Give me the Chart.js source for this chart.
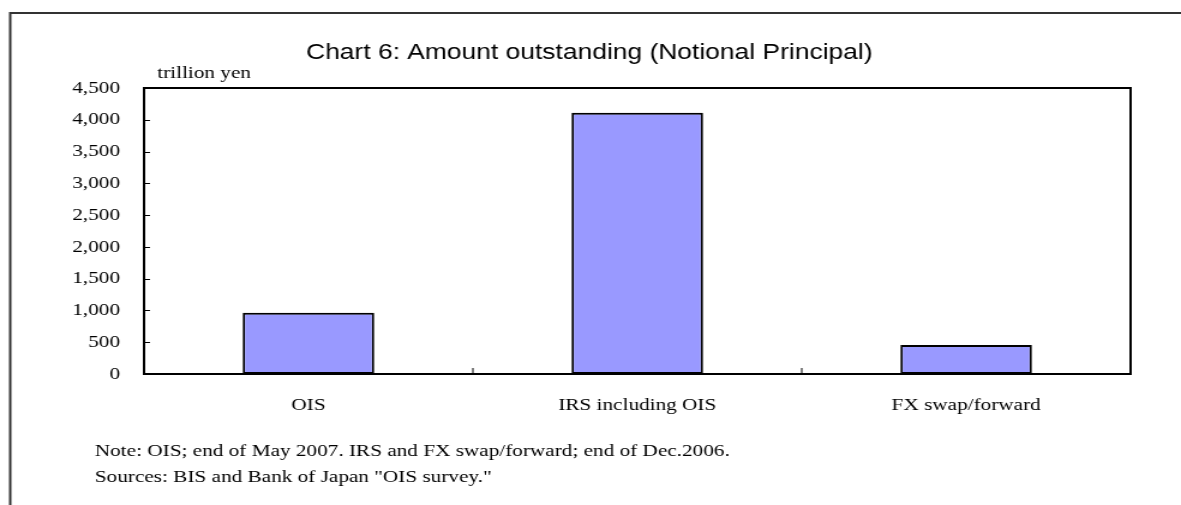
<!DOCTYPE html>
<html>
<head>
<meta charset="utf-8">
<script src="https://cdn.jsdelivr.net/npm/chart.js@4"></script>
<style>
  html, body { margin: 0; padding: 0; background: #fff; overflow: hidden; }
  /* the reference is a horizontally stretched picture, so draw narrow and stretch */
  #wrap { width: 984px; height: 505px; transform: scaleX(1.2002); transform-origin: 0 0; }
</style>
</head>
<body>
<div id="wrap"><canvas id="myChart" width="984" height="505"></canvas></div>
<script>
const categories = ["OIS", "IRS including OIS", "FX swap/forward"];
const amounts = [965, 4110, 455];
const yTicks = [0, 500, 1000, 1500, 2000, 2500, 3000, 3500, 4000, 4500];

const titleText = "Chart 6: Amount outstanding (Notional Principal)";
const unitText = "trillion yen";
const noteLines = [
  "Note: OIS; end of May 2007. IRS and FX swap/forward; end of Dec.2006.",
  'Sources: BIS and Bank of Japan "OIS survey."'
];

const serif = '"Liberation Serif", "Times New Roman", serif';
const sans = '"Liberation Sans", Arial, sans-serif';
const textSize = 17.7;

// frame, plot box, inward ticks and text
const decorations = {
  id: "decorations",
  afterDraw(chart) {
    const c = chart.ctx;
    const area = chart.chartArea;
    const x = chart.scales.x;
    const y = chart.scales.y;
    c.save();

    // outer frame (only top and left show)
    c.strokeStyle = "#333";
    c.lineWidth = 2;
    c.beginPath();
    c.moveTo(8.5, 505);
    c.lineTo(8.5, 13);
    c.lineTo(984, 13);
    c.stroke();

    // plot box
    c.strokeStyle = "#000";
    c.lineWidth = 2;
    c.strokeRect(area.left, area.top, area.right - area.left, area.bottom - area.top);

    // y ticks pointing inward
    c.lineWidth = 1;
    yTicks.forEach((v) => {
      const py = Math.round(y.getPixelForValue(v)) + 0.5;
      c.beginPath();
      c.moveTo(area.left, py);
      c.lineTo(area.left + 5, py);
      c.stroke();
    });
    // category separators pointing up from the x axis
    for (let i = 1; i < categories.length; i++) {
      const px = (x.getPixelForValue(i - 1) + x.getPixelForValue(i)) / 2;
      c.beginPath();
      c.moveTo(px, area.bottom);
      c.lineTo(px, area.bottom - 6);
      c.stroke();
    }

    c.fillStyle = "#000";
    c.textBaseline = "alphabetic";
    c.font = "22px " + sans;
    c.textAlign = "center";
    c.fillText(titleText, 491, 59);

    c.font = textSize + "px " + serif;
    c.textAlign = "left";
    c.fillText(unitText, 131, 78);
    c.fillText(noteLines[0], 79, 456);
    c.fillText(noteLines[1], 79, 482);
    c.restore();
  }
};

const ctx = document.getElementById("myChart");

const data = {
  labels: categories,
  datasets: [
    {
      label: "Amount outstanding",
      data: amounts,
      backgroundColor: "#9999ff",
      borderColor: "#000",
      borderWidth: 2,
      borderSkipped: false,
      categoryPercentage: 1,
      barPercentage: 0.4,
    },
  ],
};

const config = {
  type: "bar",
  data: data,
  options: {
    responsive: false,
    animation: false,
    devicePixelRatio: 1,
    layout: { padding: { top: 88, right: 42, bottom: 0, left: 0 } },
    plugins: {
      legend: { display: false },
      title: { display: false },
      tooltip: { enabled: false },
    },
    scales: {
      x: {
        grid: { display: false, drawTicks: false },
        border: { display: false },
        ticks: { color: "#000", font: { family: serif, size: textSize }, padding: 21 },
        afterFit: (scale) => { scale.height = 131; },
      },
      y: {
        min: 0,
        max: 4500,
        grid: { display: false, drawTicks: false },
        border: { display: false },
        afterBuildTicks: (scale) => { scale.ticks = yTicks.map((v) => ({ value: v })); },
        ticks: {
          color: "#000",
          font: { family: serif, size: textSize },
          padding: 20,
          callback: (v) => v.toLocaleString("en-US"),
        },
        afterFit: (scale) => { scale.width = 120; },
      },
    },
  },
  plugins: [decorations],
};

const myChart = new Chart(ctx, config);
</script>
</body>
</html>
